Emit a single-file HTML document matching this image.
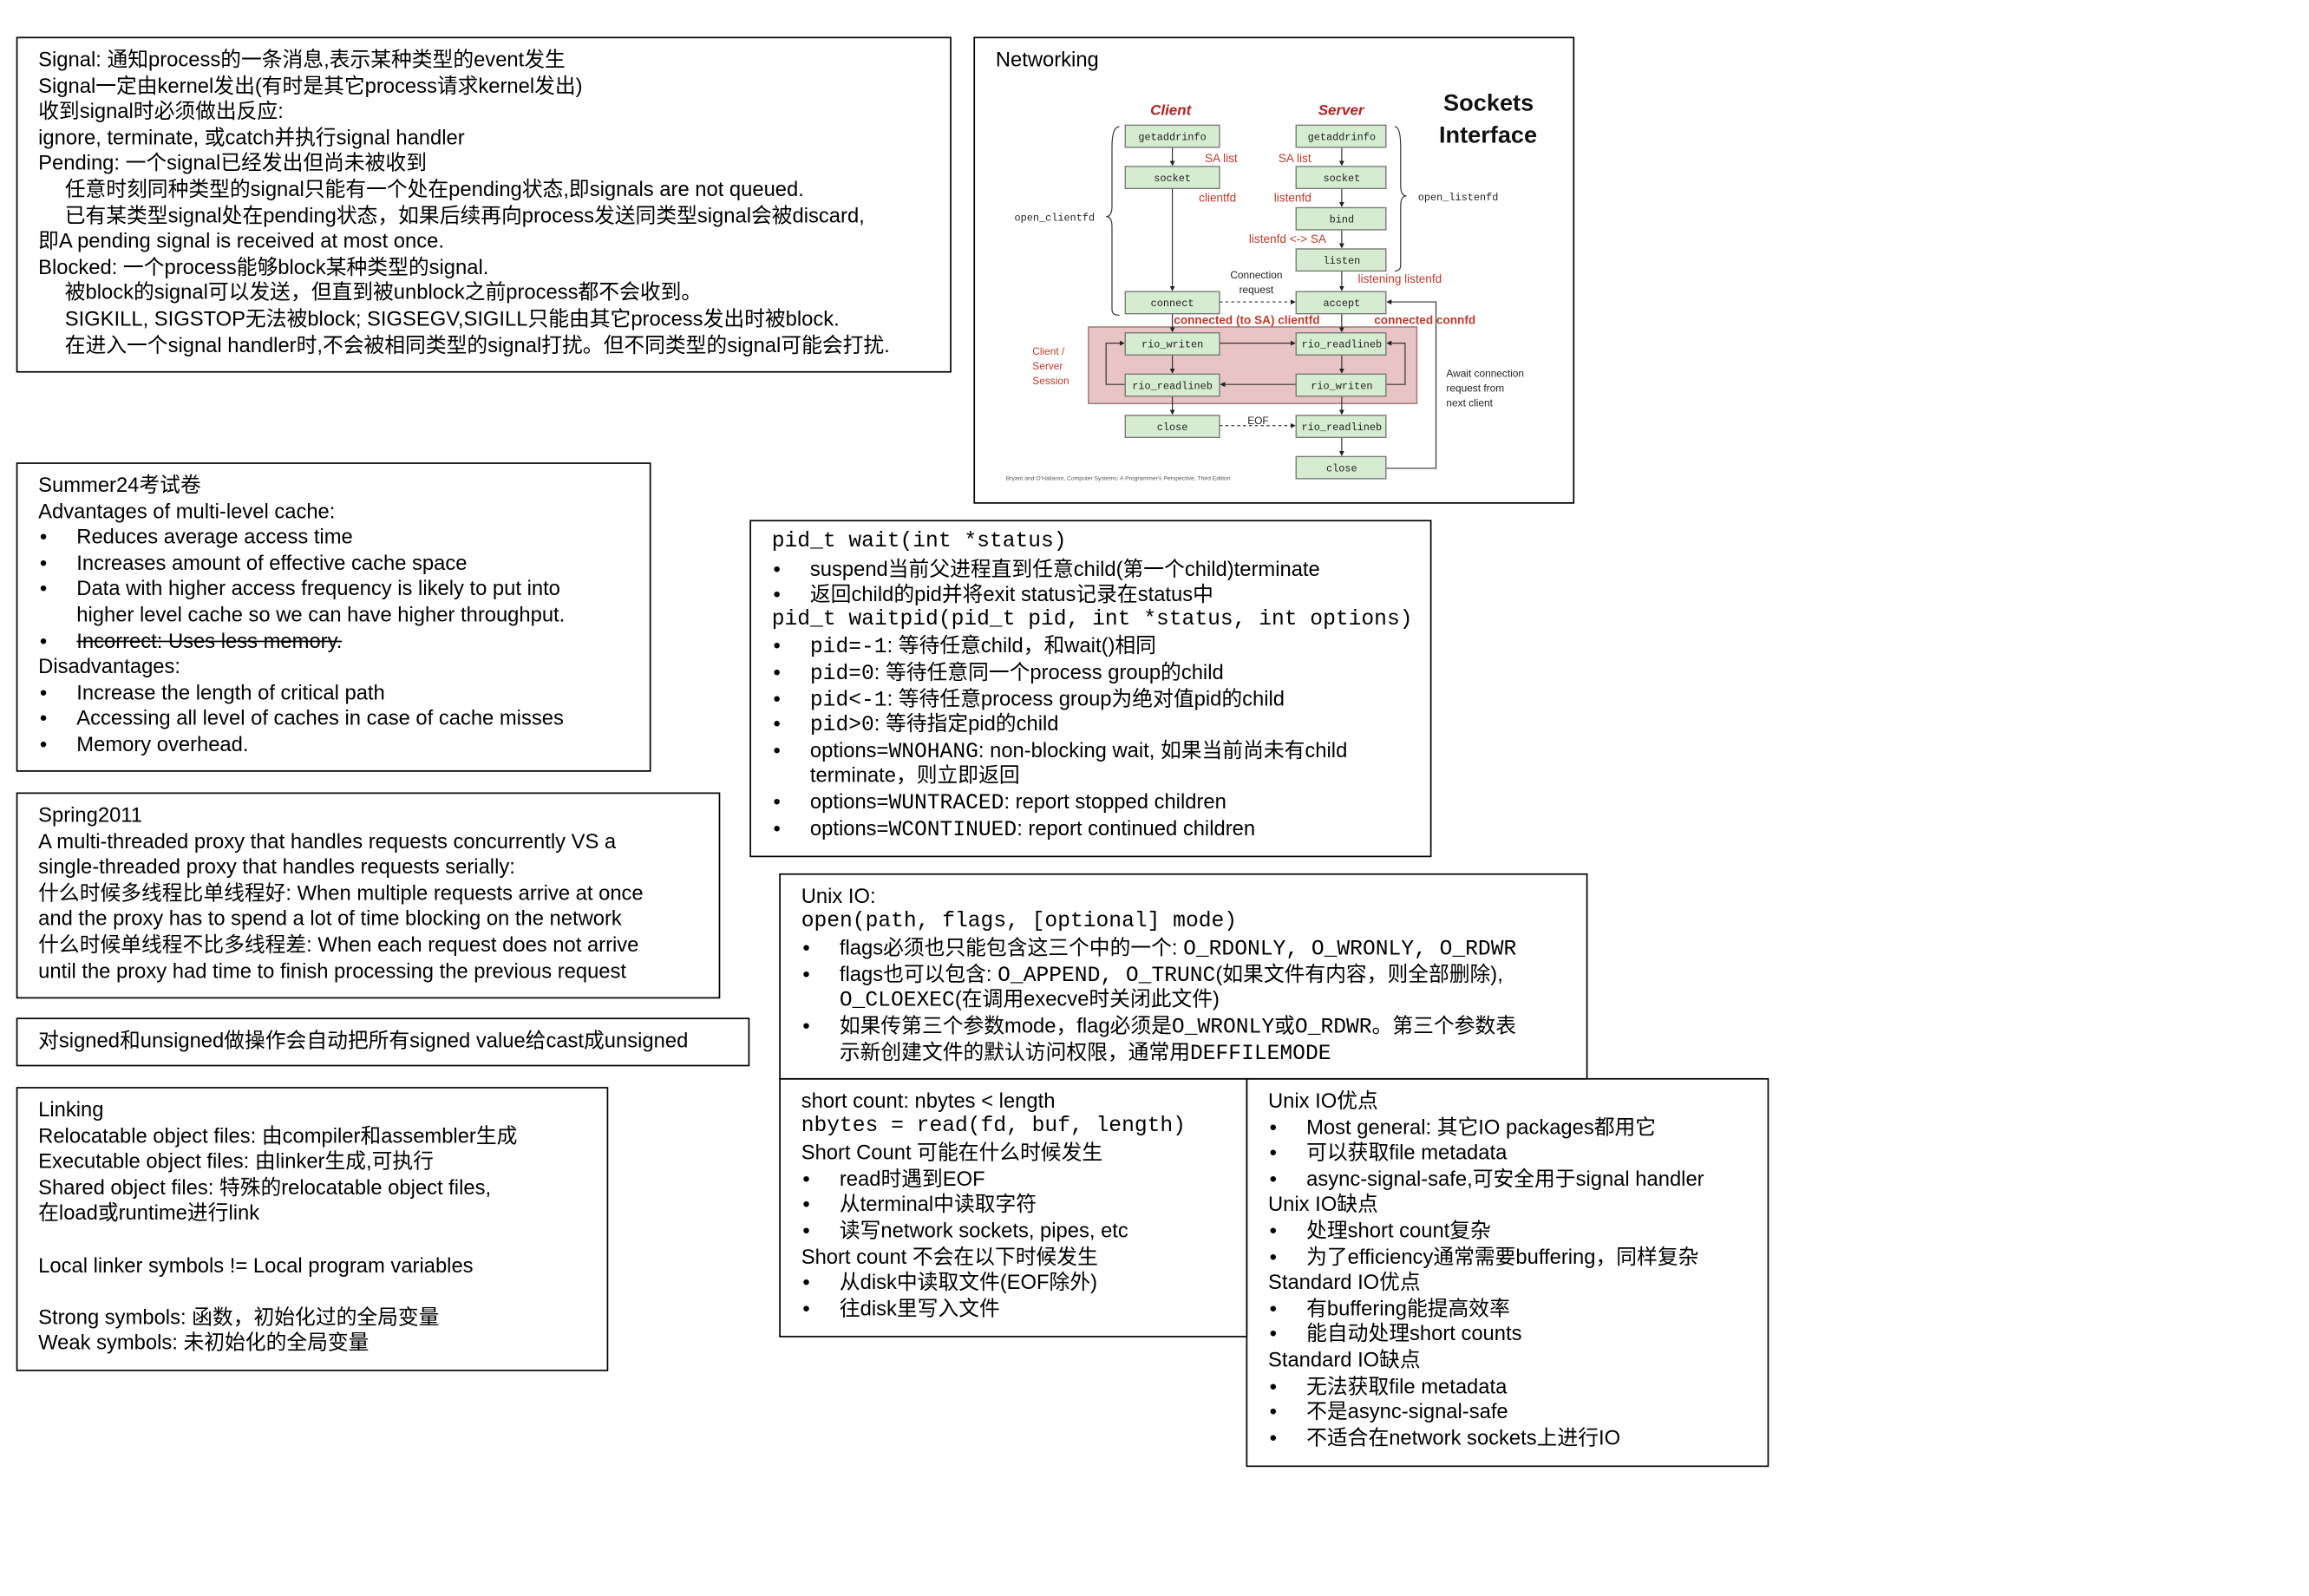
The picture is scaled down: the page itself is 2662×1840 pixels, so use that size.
<!DOCTYPE html>
<html><head><meta charset="utf-8">
<style>
html,body{margin:0;padding:0;background:#fff;}
body{width:2662px;height:1840px;overflow:hidden;position:relative;}
#c{position:absolute;left:0;top:0;width:1550px;height:1072px;transform:scale(1.698);transform-origin:0 0;}
.b{position:absolute;border:1.3px solid #000;box-sizing:border-box;padding:6px 0 0 14px;font-family:"Liberation Sans","Noto Sans CJK SC",sans-serif;font-size:14px;line-height:17.6px;color:#000;white-space:nowrap;}
.b>div{height:17.6px;}
.b>div.t2{height:35.2px;}
.m{font-family:"Liberation Mono","Noto Sans CJK SC",monospace;font-size:14.5px;line-height:1;}
.i{padding-left:18px;}
.li{position:relative;padding-left:26px;}
.li:before{content:"•";position:absolute;left:1px;}
svg text{font-family:"Liberation Sans",sans-serif;}
</style></head><body><div id="c">

<div class="b" style="left:11px;top:25px;width:635px;height:228px;">
<div>Signal: 通知process的一条消息,表示某种类型的event发生</div>
<div>Signal一定由kernel发出(有时是其它process请求kernel发出)</div>
<div>收到signal时必须做出反应:</div>
<div>ignore, terminate, 或catch并执行signal handler</div>
<div>Pending: 一个signal已经发出但尚未被收到</div>
<div class="i">任意时刻同种类型的signal只能有一个处在pending状态,即signals are not queued.</div>
<div class="i">已有某类型signal处在pending状态，如果后续再向process发送同类型signal会被discard,</div>
<div>即A pending signal is received at most once.</div>
<div>Blocked: 一个process能够block某种类型的signal.</div>
<div class="i">被block的signal可以发送，但直到被unblock之前process都不会收到。</div>
<div class="i">SIGKILL, SIGSTOP无法被block; SIGSEGV,SIGILL只能由其它process发出时被block.</div>
<div class="i">在进入一个signal handler时,不会被相同类型的signal打扰。但不同类型的signal可能会打扰.</div>
</div>

<div class="b" style="left:661px;top:25px;width:408px;height:317px;">Networking</div>

<div class="b" style="left:11px;top:314px;width:431px;height:210px;">
<div>Summer24考试卷</div>
<div>Advantages of multi-level cache:</div>
<div class="li">Reduces average access time</div>
<div class="li">Increases amount of effective cache space</div>
<div class="li t2">Data with higher access frequency is likely to put into<br>higher level cache so we can have higher throughput.</div>
<div class="li" style="text-decoration:line-through;">Incorrect: Uses less memory.</div>
<div>Disadvantages:</div>
<div class="li">Increase the length of critical path</div>
<div class="li">Accessing all level of caches in case of cache misses</div>
<div class="li">Memory overhead.</div>
</div>

<div class="b" style="left:509px;top:353px;width:463px;height:229px;">
<div class="m" style="line-height:17.6px">pid_t wait(int *status)</div>
<div class="li">suspend当前父进程直到任意child(第一个child)terminate</div>
<div class="li">返回child的pid并将exit status记录在status中</div>
<div class="m" style="line-height:17.6px">pid_t waitpid(pid_t pid, int *status, int options)</div>
<div class="li"><span class="m">pid=-1</span>: 等待任意child，和wait()相同</div>
<div class="li"><span class="m">pid=0</span>: 等待任意同一个process group的child</div>
<div class="li"><span class="m">pid&lt;-1</span>: 等待任意process group为绝对值pid的child</div>
<div class="li"><span class="m">pid&gt;0</span>: 等待指定pid的child</div>
<div class="li t2">options=<span class="m">WNOHANG</span>: non-blocking wait, 如果当前尚未有child<br>terminate，则立即返回</div>
<div class="li">options=<span class="m">WUNTRACED</span>: report stopped children</div>
<div class="li">options=<span class="m">WCONTINUED</span>: report continued children</div>
</div>

<div class="b" style="left:11px;top:538px;width:478px;height:140px;">
<div>Spring2011</div>
<div>A multi-threaded proxy that handles requests concurrently VS a</div>
<div>single-threaded proxy that handles requests serially:</div>
<div>什么时候多线程比单线程好: When multiple requests arrive at once</div>
<div>and the proxy has to spend a lot of time blocking on the network</div>
<div>什么时候单线程不比多线程差: When each request does not arrive</div>
<div>until the proxy had time to finish processing the previous request</div>
</div>

<div class="b" style="left:11px;top:691px;width:498px;height:33px;padding-top:6px;">对signed和unsigned做操作会自动把所有signed value给cast成unsigned</div>

<div class="b" style="left:529px;top:593px;width:549px;height:140px;">
<div>Unix IO:</div>
<div class="m" style="line-height:17.6px">open(path, flags, [optional] mode)</div>
<div class="li">flags必须也只能包含这三个中的一个: <span class="m">O_RDONLY, O_WRONLY, O_RDWR</span></div>
<div class="li t2">flags也可以包含: <span class="m">O_APPEND, O_TRUNC</span>(如果文件有内容，则全部删除),<br><span class="m">O_CLOEXEC</span>(在调用execve时关闭此文件)</div>
<div class="li t2">如果传第三个参数mode，flag必须是<span class="m">O_WRONLY</span>或<span class="m">O_RDWR</span>。第三个参数表<br>示新创建文件的默认访问权限，通常用<span class="m">DEFFILEMODE</span></div>
</div>

<div class="b" style="left:11px;top:738px;width:402px;height:193px;">
<div>Linking</div>
<div>Relocatable object files: 由compiler和assembler生成</div>
<div>Executable object files: 由linker生成,可执行</div>
<div>Shared object files: 特殊的relocatable object files,</div>
<div>在load或runtime进行link</div>
<div>&nbsp;</div>
<div>Local linker symbols != Local program variables</div>
<div>&nbsp;</div>
<div>Strong symbols: 函数，初始化过的全局变量</div>
<div>Weak symbols: 未初始化的全局变量</div>
</div>

<div class="b" style="left:529px;top:732px;width:318px;height:176px;">
<div>short count: nbytes &lt; length</div>
<div class="m" style="line-height:17.6px">nbytes = read(fd, buf, length)</div>
<div>Short Count 可能在什么时候发生</div>
<div class="li">read时遇到EOF</div>
<div class="li">从terminal中读取字符</div>
<div class="li">读写network sockets, pipes, etc</div>
<div>Short count 不会在以下时候发生</div>
<div class="li">从disk中读取文件(EOF除外)</div>
<div class="li">往disk里写入文件</div>
</div>

<div class="b" style="left:846px;top:732px;width:355px;height:264px;">
<div>Unix IO优点</div>
<div class="li">Most general: 其它IO packages都用它</div>
<div class="li">可以获取file metadata</div>
<div class="li">async-signal-safe,可安全用于signal handler</div>
<div>Unix IO缺点</div>
<div class="li">处理short count复杂</div>
<div class="li">为了efficiency通常需要buffering，同样复杂</div>
<div>Standard IO优点</div>
<div class="li">有buffering能提高效率</div>
<div class="li">能自动处理short counts</div>
<div>Standard IO缺点</div>
<div class="li">无法获取file metadata</div>
<div class="li">不是async-signal-safe</div>
<div class="li">不适合在network sockets上进行IO</div>
</div>

<svg style="position:absolute;left:0;top:0" width="1550" height="1072" viewBox="0 0 1550 1072">
<defs><marker id="a" markerWidth="5" markerHeight="5" refX="4" refY="2.5" orient="auto"><path d="M0,0L5,2.5L0,5z" fill="#222"/></marker></defs>
<rect x="739" y="222" width="223" height="52" fill="#e8c4c4" stroke="#9a7070" stroke-width="0.8"/>
<g stroke="#333" stroke-width="0.7" fill="none">
<path d="M796,100V112" marker-end="url(#a)"/><path d="M796,128V197" marker-end="url(#a)"/>
<path d="M911,100V112" marker-end="url(#a)"/><path d="M911,128V140" marker-end="url(#a)"/>
<path d="M911,156V168" marker-end="url(#a)"/><path d="M911,184V197" marker-end="url(#a)"/>
<path d="M796,213V225" marker-end="url(#a)"/><path d="M911,213V225" marker-end="url(#a)"/>
<path d="M796,241V253" marker-end="url(#a)"/><path d="M911,241V253" marker-end="url(#a)"/>
<path d="M796,269V281" marker-end="url(#a)"/><path d="M911,269V281" marker-end="url(#a)"/>
<path d="M911,297V309" marker-end="url(#a)"/>
<path d="M828,233H879" marker-end="url(#a)"/><path d="M880,261H829" marker-end="url(#a)"/>
<path d="M764,261H751V233H763" marker-end="url(#a)"/><path d="M941,261H954V233H942" marker-end="url(#a)"/>
<path d="M828,205H879" stroke-dasharray="2,2" marker-end="url(#a)"/>
<path d="M828,289H879" stroke-dasharray="2,2" marker-end="url(#a)"/>
<path d="M941,318H975V205H942" marker-end="url(#a)"/>
<path d="M760,86Q755,86 755,100V140Q755,147 751,147Q755,147 755,154V210Q755,214 760,214" />
<path d="M947,86Q951,86 951,100V126Q951,133 955,133Q951,133 951,140V180Q951,184 947,184" />
</g>
<g fill="#d5ecd0" stroke="#777" stroke-width="0.8">
<rect x="764" y="85" width="64" height="15"/><rect x="880" y="85" width="61" height="15"/>
<rect x="764" y="113" width="64" height="15"/><rect x="880" y="113" width="61" height="15"/>
<rect x="880" y="141" width="61" height="15"/><rect x="880" y="169" width="61" height="15"/>
<rect x="764" y="198" width="64" height="15"/><rect x="880" y="198" width="61" height="15"/>
<rect x="764" y="226" width="64" height="15"/><rect x="880" y="226" width="61" height="15"/>
<rect x="764" y="254" width="64" height="15"/><rect x="880" y="254" width="61" height="15"/>
<rect x="764" y="282" width="64" height="15"/><rect x="880" y="282" width="61" height="15"/>
<rect x="880" y="310" width="61" height="15"/>
</g>
<g font-size="7" text-anchor="middle" fill="#222">
<text x="796" y="95" style="font-family:'Liberation Mono',monospace">getaddrinfo</text><text x="911" y="95" style="font-family:'Liberation Mono',monospace">getaddrinfo</text>
<text x="796" y="123" style="font-family:'Liberation Mono',monospace">socket</text><text x="911" y="123" style="font-family:'Liberation Mono',monospace">socket</text>
<text x="911" y="151" style="font-family:'Liberation Mono',monospace">bind</text><text x="911" y="179" style="font-family:'Liberation Mono',monospace">listen</text>
<text x="796" y="208" style="font-family:'Liberation Mono',monospace">connect</text><text x="911" y="208" style="font-family:'Liberation Mono',monospace">accept</text>
<text x="796" y="236" style="font-family:'Liberation Mono',monospace">rio_writen</text><text x="911" y="236" style="font-family:'Liberation Mono',monospace">rio_readlineb</text>
<text x="796" y="264" style="font-family:'Liberation Mono',monospace">rio_readlineb</text><text x="911" y="264" style="font-family:'Liberation Mono',monospace">rio_writen</text>
<text x="796" y="292" style="font-family:'Liberation Mono',monospace">close</text><text x="911" y="292" style="font-family:'Liberation Mono',monospace">rio_readlineb</text>
<text x="911" y="320" style="font-family:'Liberation Mono',monospace">close</text>
<text x="716" y="150" style="font-family:'Liberation Mono',monospace">open_clientfd</text>
<text x="990" y="136" style="font-family:'Liberation Mono',monospace">open_listenfd</text>
</g>
<g font-size="8" fill="#c0392b">
<text x="781" y="78" font-size="10" font-weight="bold" font-style="italic" fill="#b22222">Client</text>
<text x="895" y="78" font-size="10" font-weight="bold" font-style="italic" fill="#b22222">Server</text>
<text x="818" y="110">SA list</text><text x="868" y="110">SA list</text>
<text x="814" y="137">clientfd</text><text x="865" y="137">listenfd</text>
<text x="848" y="165">listenfd &lt;-&gt; SA</text><text x="922" y="192">listening listenfd</text>
<text x="797" y="220" font-weight="bold">connected (to SA) clientfd</text>
<text x="933" y="220" font-weight="bold">connected connfd</text>
<text x="701" y="241" font-size="7">Client /</text><text x="701" y="251" font-size="7">Server</text><text x="701" y="261" font-size="7">Session</text>
</g>
<g font-size="7" fill="#222">
<text x="853" y="189" text-anchor="middle">Connection</text><text x="853" y="199" text-anchor="middle">request</text>
<text x="847" y="288">EOF</text>
<text x="982" y="256">Await connection</text><text x="982" y="266">request from</text><text x="982" y="276">next client</text>
<text x="683" y="326" font-size="4" fill="#555">Bryant and O'Hallaron, Computer Systems: A Programmer's Perspective, Third Edition</text>
</g>
<text x="980" y="75" font-size="16" font-weight="bold" fill="#111">Sockets</text>
<text x="977" y="97" font-size="16" font-weight="bold" fill="#111">Interface</text>
</svg>
</div></body></html>
